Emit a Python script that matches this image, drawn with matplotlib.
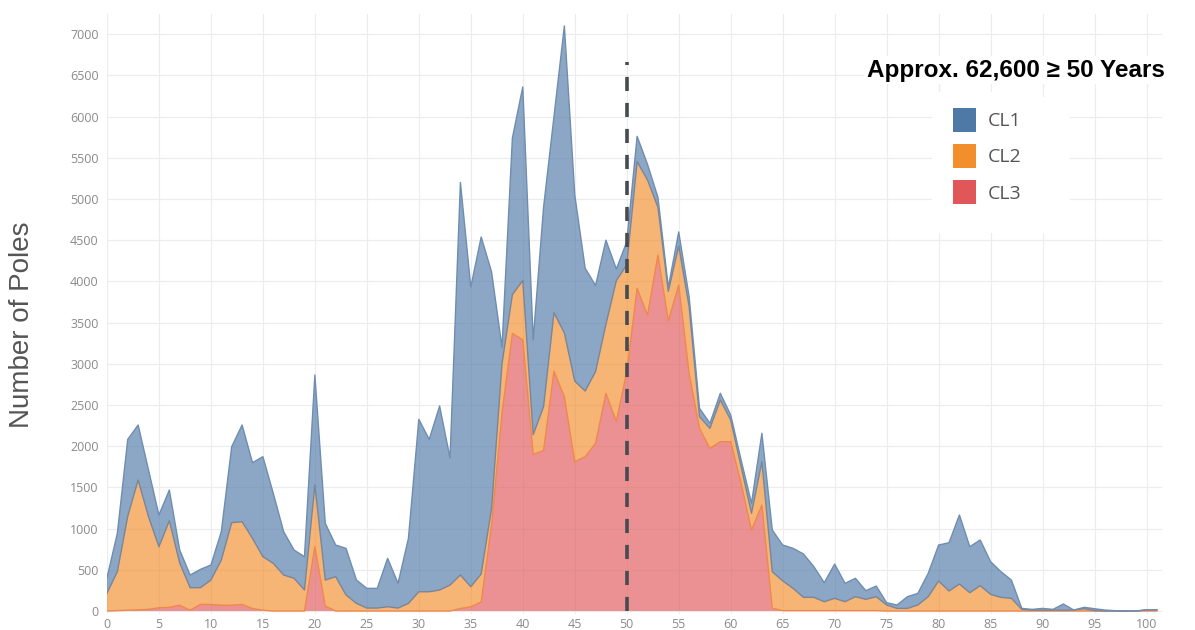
# -*- coding: UTF-8 -*-
# stacked area chart: number of poles by age, CL1 / CL2 / CL3

import matplotlib.pyplot as plt
from matplotlib.patches import Patch, Rectangle
import numpy as np

ages = list(range(0, 102))

# values (CL3 at the bottom, CL2 in the middle, CL1 on top)
cl3 = [0, 5, 10, 15, 20, 40, 45, 70, 10, 80,
       80, 70, 70, 80, 30, 10, 0, 0, 0, 0,
       780, 60, 0, 0, 0, 0, 0, 0, 0, 0,
       0, 0, 0, 0, 30, 52, 110, 1050, 2400, 3370,
       3290, 1900, 1950, 2910, 2600, 1812, 1873, 2035, 2642, 2300,
       2900, 3916, 3590, 4320, 3520, 3956, 2884, 2217, 1974, 2055,
       2055, 1550, 983, 1286, 33, 5, 5, 5, 5, 5,
       5, 5, 5, 5, 5, 0, 0, 0, 0, 0,
       0, 0, 0, 0, 0, 0, 0, 0, 0, 0,
       0, 0, 0, 0, 0, 0, 0, 0, 0, 0,
       0, 0]
cl2 = [215, 472, 1140, 1575, 1124, 740, 1051, 512, 273, 203,
       296, 549, 1002, 1004, 852, 649, 579, 437, 397, 255,
       749, 316, 417, 194, 93, 36, 36, 52, 36, 93,
       234, 234, 255, 315, 407, 243, 340, 200, 600, 470,
       720, 240, 530, 710, 774, 978, 797, 870, 838, 1710,
       1300, 1537, 1640, 580, 360, 474, 809, 141, 243, 506,
       263, 201, 203, 526, 444, 361, 270, 161, 161, 108,
       149, 108, 169, 137, 169, 73, 32, 32, 73, 174,
       364, 243, 328, 223, 308, 202, 166, 154, 20, 10,
       10, 10, 10, 12, 28, 5, 0, 0, 0, 0,
       15, 15]
cl1 = [185, 466, 933, 667, 567, 385, 372, 158, 154, 223,
       182, 343, 922, 1173, 918, 1214, 849, 525, 343, 404,
       1335, 688, 384, 566, 283, 239, 239, 587, 300, 789,
       2092, 1849, 2233, 1542, 4763, 3637, 4089, 2864, 200, 1900,
       2350, 1150, 2420, 2380, 3726, 2260, 1490, 1045, 1020, 140,
       280, 307, 190, 120, 50, 170, 122, 102, 61, 81,
       61, 82, 121, 345, 506, 435, 486, 526, 372, 231,
       416, 223, 223, 105, 129, 28, 41, 142, 141, 283,
       437, 586, 837, 558, 554, 397, 311, 222, 12, 10,
       22, 10, 75, 0, 17, 23, 12, 4, 0, 0,
       0, 0]

labels = ['CL1', 'CL2', 'CL3']
colors = ['#4e79a7', '#f28e2b', '#e15759']
edge_colors = ['#6f8db0', '#7a8597', '#f0884a']

fig = plt.figure(figsize=(11.95, 6.3), dpi=100)
ax = fig.add_axes([0.0895, 0.0254, 0.883, 0.9524])

# stacked areas, bottom to top
ax.stackplot(ages, cl3, cl2, cl1, colors=[colors[2], colors[1], colors[0]],
             alpha=0.65, linewidth=0, zorder=2)

# boundary lines of each layer
tops = np.cumsum([cl3, cl2, cl1], axis=0)
ax.plot(ages, tops[0], color=edge_colors[2], lw=1, zorder=3)
ax.plot(ages, tops[1], color=edge_colors[1], lw=1, zorder=3)
ax.plot(ages, tops[2], color=edge_colors[0], lw=1, zorder=3)

# 50 years marker
ax.plot([50, 50], [0, 6660], color='#464b52', lw=2.6,
        linestyle=(0, (3.9, 3.3)), zorder=4)

# axes
ax.set_xlim(0, 101.5)
ax.set_ylim(-36, 7245)
ax.set_xticks(range(0, 101, 5))
ax.set_yticks(range(0, 7001, 500))
ax.tick_params(axis='both', length=0, labelsize=9, labelcolor='#8a8a8a')
ax.tick_params(axis='x', pad=3)
ax.tick_params(axis='y', pad=6)
for lab in ax.get_xticklabels() + ax.get_yticklabels():
    lab.set_family(['Open Sans', 'DejaVu Sans'])
ax.grid(True, color='#ececec', lw=0.8, zorder=0)
ax.set_axisbelow(True)
for sp in ax.spines.values():
    sp.set_visible(False)

# white panel behind the legend (hides the grid there)
ax.add_patch(Rectangle((932 / 1195, 1 - 233 / 630), 138 / 1195, 136 / 630,
                       transform=fig.transFigure, facecolor='white',
                       edgecolor='none', zorder=1))

fig.text(22 / 1195, 1 - 325 / 630, 'Number of Poles', rotation=90,
         ha='center', va='center', fontsize=20, color='#555555',
         family=['Liberation Sans', 'DejaVu Sans'])

# title annotation
fig.text(1165 / 1195, 1 - 70 / 630, 'Approx. 62,600 \u2265 50 Years',
         ha='right', va='center', fontsize=17.5, fontweight='bold',
         color='black', family=['Liberation Sans', 'DejaVu Sans'],
         bbox=dict(facecolor='white', edgecolor='none', pad=2))

# legend
handles = [Patch(facecolor=c, edgecolor='none') for c in colors]
leg = ax.legend(handles, labels, loc='upper left',
                bbox_to_anchor=(937 / 1195, 1 - 92 / 630),
                bbox_transform=fig.transFigure, borderaxespad=0,
                borderpad=0.8, handlelength=1.23,
                handleheight=1.52, handletextpad=0.6, labelspacing=0.64,
                frameon=True, fancybox=False,
                prop={'family': ['Open Sans', 'DejaVu Sans'], 'size': 14})
leg.get_frame().set_facecolor('white')
leg.get_frame().set_edgecolor('none')
leg.get_frame().set_alpha(1)
for t in leg.get_texts():
    t.set_color('#555555')

fig.savefig('out.png', dpi=100)
